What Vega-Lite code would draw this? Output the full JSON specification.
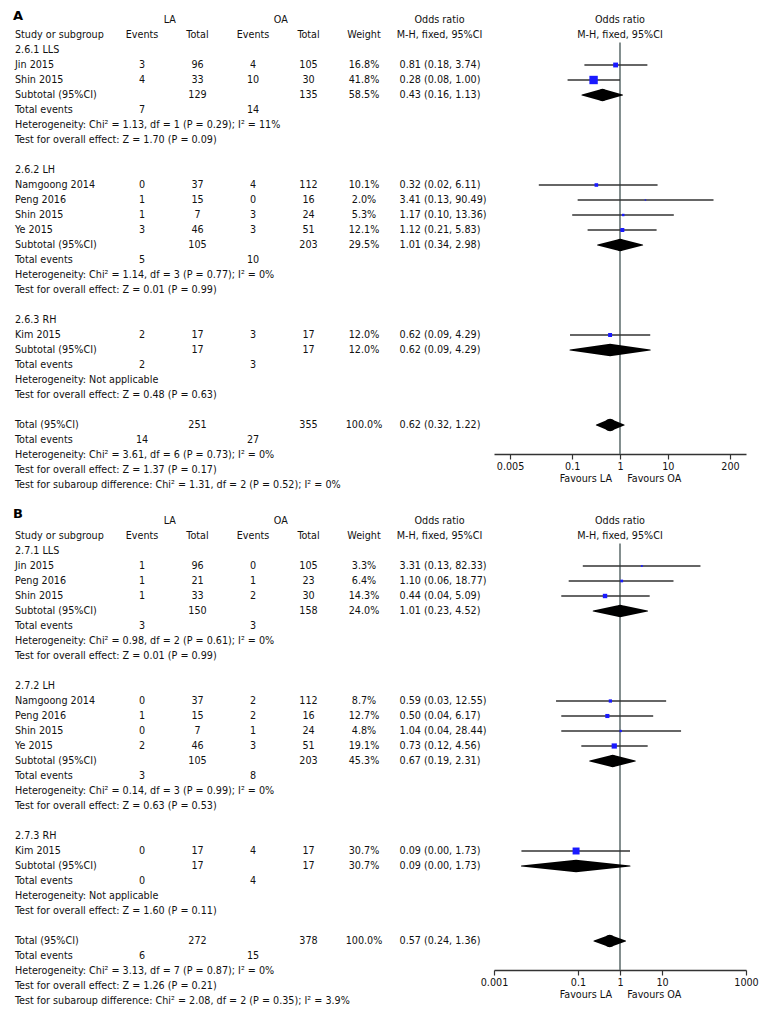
{
"$schema": "https://vega.github.io/schema/vega-lite/v6.json",
"padding": {"left": 12, "top": 0, "right": 0, "bottom": 0},
"background": "white",
"columns": 2,
"bounds": "flush",
"align": "each",
"spacing": {"row": 6, "column": 1},
"config": {
  "view": {"stroke": null},
  "text": {"font": "DejaVu Sans Condensed, DejaVu Sans", "fontSize": 10.7, "color": "#111"},
  "axis": {"labelFont": "DejaVu Sans Condensed, DejaVu Sans", "titleFont": "DejaVu Sans Condensed, DejaVu Sans"}
},
"datasets": {
  "rows": [
    {"p":"A","r":0,"study":"2.6.1 LLS","kind":"group"},
    {"p":"A","r":1,"study":"Jin 2015","ev1":3,"tot1":96,"ev2":4,"tot2":105,"weight":0.168,"ortext":"0.81 (0.18, 3.74)","or":0.81,"lo":0.18,"hi":3.74,"kind":"study"},
    {"p":"A","r":2,"study":"Shin 2015","ev1":4,"tot1":33,"ev2":10,"tot2":30,"weight":0.418,"ortext":"0.28 (0.08, 1.00)","or":0.28,"lo":0.08,"hi":1.0,"kind":"study"},
    {"p":"A","r":3,"study":"Subtotal (95%CI)","tot1":129,"tot2":135,"weight":0.585,"ortext":"0.43 (0.16, 1.13)","or":0.43,"lo":0.16,"hi":1.13,"kind":"sub"},
    {"p":"A","r":4,"study":"Total events","ev1":7,"ev2":14,"kind":"events"},
    {"p":"A","r":5,"study":"Heterogeneity: Chi² = 1.13, df = 1 (P = 0.29); I² = 11%","kind":"note"},
    {"p":"A","r":6,"study":"Test for overall effect: Z = 1.70 (P = 0.09)","kind":"note"},
    {"p":"A","r":8,"study":"2.6.2 LH","kind":"group"},
    {"p":"A","r":9,"study":"Namgoong 2014","ev1":0,"tot1":37,"ev2":4,"tot2":112,"weight":0.101,"ortext":"0.32 (0.02, 6.11)","or":0.32,"lo":0.02,"hi":6.11,"kind":"study"},
    {"p":"A","r":10,"study":"Peng 2016","ev1":1,"tot1":15,"ev2":0,"tot2":16,"weight":0.02,"ortext":"3.41 (0.13, 90.49)","or":3.41,"lo":0.13,"hi":90.49,"kind":"study"},
    {"p":"A","r":11,"study":"Shin 2015","ev1":1,"tot1":7,"ev2":3,"tot2":24,"weight":0.053,"ortext":"1.17 (0.10, 13.36)","or":1.17,"lo":0.10,"hi":13.36,"kind":"study"},
    {"p":"A","r":12,"study":"Ye 2015","ev1":3,"tot1":46,"ev2":3,"tot2":51,"weight":0.121,"ortext":"1.12 (0.21, 5.83)","or":1.12,"lo":0.21,"hi":5.83,"kind":"study"},
    {"p":"A","r":13,"study":"Subtotal (95%CI)","tot1":105,"tot2":203,"weight":0.295,"ortext":"1.01 (0.34, 2.98)","or":1.01,"lo":0.34,"hi":2.98,"kind":"sub"},
    {"p":"A","r":14,"study":"Total events","ev1":5,"ev2":10,"kind":"events"},
    {"p":"A","r":15,"study":"Heterogeneity: Chi² = 1.14, df = 3 (P = 0.77); I² = 0%","kind":"note"},
    {"p":"A","r":16,"study":"Test for overall effect: Z = 0.01 (P = 0.99)","kind":"note"},
    {"p":"A","r":18,"study":"2.6.3 RH","kind":"group"},
    {"p":"A","r":19,"study":"Kim 2015","ev1":2,"tot1":17,"ev2":3,"tot2":17,"weight":0.12,"ortext":"0.62 (0.09, 4.29)","or":0.62,"lo":0.09,"hi":4.29,"kind":"study"},
    {"p":"A","r":20,"study":"Subtotal (95%CI)","tot1":17,"tot2":17,"weight":0.12,"ortext":"0.62 (0.09, 4.29)","or":0.62,"lo":0.09,"hi":4.29,"kind":"sub"},
    {"p":"A","r":21,"study":"Total events","ev1":2,"ev2":3,"kind":"events"},
    {"p":"A","r":22,"study":"Heterogeneity: Not applicable","kind":"note"},
    {"p":"A","r":23,"study":"Test for overall effect: Z = 0.48 (P = 0.63)","kind":"note"},
    {"p":"A","r":25,"study":"Total (95%CI)","tot1":251,"tot2":355,"weight":1.0,"ortext":"0.62 (0.32, 1.22)","or":0.62,"lo":0.32,"hi":1.22,"kind":"tot"},
    {"p":"A","r":26,"study":"Total events","ev1":14,"ev2":27,"kind":"events"},
    {"p":"A","r":27,"study":"Heterogeneity: Chi² = 3.61, df = 6 (P = 0.73); I² = 0%","kind":"note"},
    {"p":"A","r":28,"study":"Test for overall effect: Z = 1.37 (P = 0.17)","kind":"note"},
    {"p":"A","r":29,"study":"Test for subaroup difference: Chi² = 1.31, df = 2 (P = 0.52); I² = 0%","kind":"note"},

    {"p":"B","r":0,"study":"2.7.1 LLS","kind":"group"},
    {"p":"B","r":1,"study":"Jin 2015","ev1":1,"tot1":96,"ev2":0,"tot2":105,"weight":0.033,"ortext":"3.31 (0.13, 82.33)","or":3.31,"lo":0.13,"hi":82.33,"kind":"study"},
    {"p":"B","r":2,"study":"Peng 2016","ev1":1,"tot1":21,"ev2":1,"tot2":23,"weight":0.064,"ortext":"1.10 (0.06, 18.77)","or":1.10,"lo":0.06,"hi":18.77,"kind":"study"},
    {"p":"B","r":3,"study":"Shin 2015","ev1":1,"tot1":33,"ev2":2,"tot2":30,"weight":0.143,"ortext":"0.44 (0.04, 5.09)","or":0.44,"lo":0.04,"hi":5.09,"kind":"study"},
    {"p":"B","r":4,"study":"Subtotal (95%CI)","tot1":150,"tot2":158,"weight":0.24,"ortext":"1.01 (0.23, 4.52)","or":1.01,"lo":0.23,"hi":4.52,"kind":"sub"},
    {"p":"B","r":5,"study":"Total events","ev1":3,"ev2":3,"kind":"events"},
    {"p":"B","r":6,"study":"Heterogeneity: Chi² = 0.98, df = 2 (P = 0.61); I² = 0%","kind":"note"},
    {"p":"B","r":7,"study":"Test for overall effect: Z = 0.01 (P = 0.99)","kind":"note"},
    {"p":"B","r":9,"study":"2.7.2 LH","kind":"group"},
    {"p":"B","r":10,"study":"Namgoong 2014","ev1":0,"tot1":37,"ev2":2,"tot2":112,"weight":0.087,"ortext":"0.59 (0.03, 12.55)","or":0.59,"lo":0.03,"hi":12.55,"kind":"study"},
    {"p":"B","r":11,"study":"Peng 2016","ev1":1,"tot1":15,"ev2":2,"tot2":16,"weight":0.127,"ortext":"0.50 (0.04, 6.17)","or":0.50,"lo":0.04,"hi":6.17,"kind":"study"},
    {"p":"B","r":12,"study":"Shin 2015","ev1":0,"tot1":7,"ev2":1,"tot2":24,"weight":0.048,"ortext":"1.04 (0.04, 28.44)","or":1.04,"lo":0.04,"hi":28.44,"kind":"study"},
    {"p":"B","r":13,"study":"Ye 2015","ev1":2,"tot1":46,"ev2":3,"tot2":51,"weight":0.191,"ortext":"0.73 (0.12, 4.56)","or":0.73,"lo":0.12,"hi":4.56,"kind":"study"},
    {"p":"B","r":14,"study":"Subtotal (95%CI)","tot1":105,"tot2":203,"weight":0.453,"ortext":"0.67 (0.19, 2.31)","or":0.67,"lo":0.19,"hi":2.31,"kind":"sub"},
    {"p":"B","r":15,"study":"Total events","ev1":3,"ev2":8,"kind":"events"},
    {"p":"B","r":16,"study":"Heterogeneity: Chi² = 0.14, df = 3 (P = 0.99); I² = 0%","kind":"note"},
    {"p":"B","r":17,"study":"Test for overall effect: Z = 0.63 (P = 0.53)","kind":"note"},
    {"p":"B","r":19,"study":"2.7.3 RH","kind":"group"},
    {"p":"B","r":20,"study":"Kim 2015","ev1":0,"tot1":17,"ev2":4,"tot2":17,"weight":0.307,"ortext":"0.09 (0.00, 1.73)","or":0.09,"lo":0.0045,"hi":1.73,"kind":"study"},
    {"p":"B","r":21,"study":"Subtotal (95%CI)","tot1":17,"tot2":17,"weight":0.307,"ortext":"0.09 (0.00, 1.73)","or":0.09,"lo":0.0045,"hi":1.73,"kind":"sub"},
    {"p":"B","r":22,"study":"Total events","ev1":0,"ev2":4,"kind":"events"},
    {"p":"B","r":23,"study":"Heterogeneity: Not applicable","kind":"note"},
    {"p":"B","r":24,"study":"Test for overall effect: Z = 1.60 (P = 0.11)","kind":"note"},
    {"p":"B","r":26,"study":"Total (95%CI)","tot1":272,"tot2":378,"weight":1.0,"ortext":"0.57 (0.24, 1.36)","or":0.57,"lo":0.24,"hi":1.36,"kind":"tot"},
    {"p":"B","r":27,"study":"Total events","ev1":6,"ev2":15,"kind":"events"},
    {"p":"B","r":28,"study":"Heterogeneity: Chi² = 3.13, df = 7 (P = 0.87); I² = 0%","kind":"note"},
    {"p":"B","r":29,"study":"Test for overall effect: Z = 1.26 (P = 0.21)","kind":"note"},
    {"p":"B","r":30,"study":"Test for subaroup difference: Chi² = 2.08, df = 2 (P = 0.35); I² = 3.9%","kind":"note"}
  ],
  "head": [
    {"p":"A","r":-2,"c":"study","t":"A"},
    {"p":"A","r":-2,"c":"ev1","t":"LA"},
    {"p":"A","r":-2,"c":"ev2","t":"OA"},
    {"p":"A","r":-2,"c":"or","t":"Odds ratio"},
    {"p":"A","r":-2,"c":"forest","t":"Odds ratio"},
    {"p":"A","r":-1,"c":"study","t":"Study or subgroup"},
    {"p":"A","r":-1,"c":"ev1","t":"Events"},
    {"p":"A","r":-1,"c":"tot1","t":"Total"},
    {"p":"A","r":-1,"c":"ev2","t":"Events"},
    {"p":"A","r":-1,"c":"tot2","t":"Total"},
    {"p":"A","r":-1,"c":"wt","t":"Weight"},
    {"p":"A","r":-1,"c":"or","t":"M-H, fixed, 95%CI"},
    {"p":"A","r":-1,"c":"forest","t":"M-H, fixed, 95%CI"},
    {"p":"B","r":-2,"c":"study","t":"B"},
    {"p":"B","r":-2,"c":"ev1","t":"LA"},
    {"p":"B","r":-2,"c":"ev2","t":"OA"},
    {"p":"B","r":-2,"c":"or","t":"Odds ratio"},
    {"p":"B","r":-2,"c":"forest","t":"Odds ratio"},
    {"p":"B","r":-1,"c":"study","t":"Study or subgroup"},
    {"p":"B","r":-1,"c":"ev1","t":"Events"},
    {"p":"B","r":-1,"c":"tot1","t":"Total"},
    {"p":"B","r":-1,"c":"ev2","t":"Events"},
    {"p":"B","r":-1,"c":"tot2","t":"Total"},
    {"p":"B","r":-1,"c":"wt","t":"Weight"},
    {"p":"B","r":-1,"c":"or","t":"M-H, fixed, 95%CI"},
    {"p":"B","r":-1,"c":"forest","t":"M-H, fixed, 95%CI"}
  ]
},
"concat": [
  {
    "width": 480, "height": 495,
    "data": {"name": "rows"},
    "transform": [{"filter": "datum.p == 'A'"}],
    "encoding": {"y": {"field": "r", "type": "quantitative", "scale": {"domain": [-3.333, 29.667], "reverse": true, "nice": false, "zero": false}, "axis": null}},
    "layer": [
      {"data": {"values": [{}]}, "mark": {"type": "rule", "color": "#666", "strokeWidth": 2}, "encoding": {"y": {"datum": -0.5}}},
      {"mark": {"type": "text", "align": "left", "dx": -16}, "encoding": {"x": {"datum": "study", "type": "nominal", "scale": {"type": "point", "domain": ["study","gap","ev1","tot1","ev2","tot2","wt","or","end"], "padding": 0.324}, "axis": null}, "text": {"field": "study", "type": "nominal"}}},
      {"transform": [{"filter": "datum.ev1 != null"}], "mark": {"type": "text"}, "encoding": {"x": {"datum": "ev1", "type": "nominal", "scale": {"type": "point", "domain": ["study","gap","ev1","tot1","ev2","tot2","wt","or","end"], "padding": 0.324}, "axis": null}, "text": {"field": "ev1", "type": "nominal"}}},
      {"transform": [{"filter": "datum.tot1 != null"}], "mark": {"type": "text"}, "encoding": {"x": {"datum": "tot1", "type": "nominal", "scale": {"type": "point", "domain": ["study","gap","ev1","tot1","ev2","tot2","wt","or","end"], "padding": 0.324}, "axis": null}, "text": {"field": "tot1", "type": "nominal"}}},
      {"transform": [{"filter": "datum.ev2 != null"}], "mark": {"type": "text"}, "encoding": {"x": {"datum": "ev2", "type": "nominal", "scale": {"type": "point", "domain": ["study","gap","ev1","tot1","ev2","tot2","wt","or","end"], "padding": 0.324}, "axis": null}, "text": {"field": "ev2", "type": "nominal"}}},
      {"transform": [{"filter": "datum.tot2 != null"}], "mark": {"type": "text"}, "encoding": {"x": {"datum": "tot2", "type": "nominal", "scale": {"type": "point", "domain": ["study","gap","ev1","tot1","ev2","tot2","wt","or","end"], "padding": 0.324}, "axis": null}, "text": {"field": "tot2", "type": "nominal"}}},
      {"transform": [{"filter": "datum.weight != null"}], "mark": {"type": "text"}, "encoding": {"x": {"datum": "wt", "type": "nominal", "scale": {"type": "point", "domain": ["study","gap","ev1","tot1","ev2","tot2","wt","or","end"], "padding": 0.324}, "axis": null}, "text": {"field": "weight", "type": "quantitative", "format": ".1%"}}},
      {"transform": [{"filter": "datum.ortext != null"}], "mark": {"type": "text", "align": "left", "dx": -20}, "encoding": {"x": {"datum": "or", "type": "nominal", "scale": {"type": "point", "domain": ["study","gap","ev1","tot1","ev2","tot2","wt","or","end"], "padding": 0.324}, "axis": null}, "text": {"field": "ortext", "type": "nominal"}}},
      {"data": {"name": "head"}, "transform": [{"filter": "datum.p == 'A' && datum.r == -1 && indexof(['ev1','tot1','ev2','tot2','wt'], datum.c) >= 0"}], "mark": {"type": "text"}, "encoding": {"x": {"field": "c", "type": "nominal", "scale": {"type": "point", "domain": ["study","gap","ev1","tot1","ev2","tot2","wt","or","end"], "padding": 0.324}, "axis": null}, "text": {"field": "t", "type": "nominal"}}},
      {"data": {"name": "head"}, "transform": [{"filter": "datum.p == 'A' && datum.r == -2 && (datum.c == 'ev1' || datum.c == 'ev2')"}], "mark": {"type": "text", "dx": 27.75}, "encoding": {"x": {"field": "c", "type": "nominal", "scale": {"type": "point", "domain": ["study","gap","ev1","tot1","ev2","tot2","wt","or","end"], "padding": 0.324}, "axis": null}, "text": {"field": "t", "type": "nominal"}}},
      {"data": {"name": "head"}, "transform": [{"filter": "datum.p == 'A' && datum.c == 'or'"}], "mark": {"type": "text", "dx": 20}, "encoding": {"x": {"field": "c", "type": "nominal", "scale": {"type": "point", "domain": ["study","gap","ev1","tot1","ev2","tot2","wt","or","end"], "padding": 0.324}, "axis": null}, "text": {"field": "t", "type": "nominal"}}},
      {"data": {"name": "head"}, "transform": [{"filter": "datum.p == 'A' && datum.c == 'study' && datum.r == -1"}], "mark": {"type": "text", "align": "left", "dx": -16}, "encoding": {"x": {"field": "c", "type": "nominal", "scale": {"type": "point", "domain": ["study","gap","ev1","tot1","ev2","tot2","wt","or","end"], "padding": 0.324}, "axis": null}, "text": {"field": "t", "type": "nominal"}}},
      {"data": {"name": "head"}, "transform": [{"filter": "datum.p == 'A' && datum.c == 'study' && datum.r == -2"}], "mark": {"type": "text", "align": "left", "dx": -18, "dy": -3.5, "font": "DejaVu Sans", "fontSize": 13, "fontWeight": "bold", "color": "#000"}, "encoding": {"x": {"field": "c", "type": "nominal", "scale": {"type": "point", "domain": ["study","gap","ev1","tot1","ev2","tot2","wt","or","end"], "padding": 0.324}, "axis": null}, "text": {"field": "t", "type": "nominal"}}}
    ]
  },
  {
    "width": 252, "height": 454,
    "data": {"name": "rows"},
    "transform": [{"filter": "datum.p == 'A'"}],
    "encoding": {"y": {"field": "r", "type": "quantitative", "scale": {"domain": [-3.333, 26.933], "reverse": true, "nice": false, "zero": false}, "axis": null}},
    "resolve": {"scale": {"size": "independent"}},
    "layer": [
      {"data": {"values": [{}]}, "mark": {"type": "rule", "color": "#666", "strokeWidth": 2}, "encoding": {"y": {"datum": -0.5}}},
      {"transform": [{"filter": "datum.kind == 'tot'"}], "mark": {"type": "rule", "color": "#5b6a6a", "strokeWidth": 1.5, "orient": "vertical"}, "encoding": {"x": {"datum": 1, "type": "quantitative", "scale": {"type": "log", "domain": [0.00231, 433], "nice": false}, "axis": {"values": [0.005, 0.1, 1, 10, 200], "format": "~g", "grid": false, "domainColor": "#333", "domainWidth": 1.5, "tickColor": "#333", "tickWidth": 1.2, "tickSize": 5, "labelFontSize": 10.7, "labelColor": "#111", "labelPadding": 2, "labelFlush": false, "labelOverlap": false, "title": "Favours LA\u00a0\u00a0\u00a0\u00a0 Favours OA", "titleFontSize": 10.7, "titleFontWeight": "normal", "titleColor": "#111", "titlePadding": 3}}, "y": {"datum": -0.5, "type": "quantitative"}, "y2": {"datum": 26.933}}},
      {"transform": [{"filter": "datum.kind == 'study'"}], "mark": {"type": "rule", "color": "#333", "strokeWidth": 1.3}, "encoding": {"x": {"field": "lo", "type": "quantitative", "scale": {"type": "log", "domain": [0.00231, 433], "nice": false}, "axis": {"values": [0.005, 0.1, 1, 10, 200], "format": "~g", "grid": false, "domainColor": "#333", "domainWidth": 1.5, "tickColor": "#333", "tickWidth": 1.2, "tickSize": 5, "labelFontSize": 10.7, "labelColor": "#111", "labelPadding": 2, "labelFlush": false, "labelOverlap": false, "title": "Favours LA\u00a0\u00a0\u00a0\u00a0 Favours OA", "titleFontSize": 10.7, "titleFontWeight": "normal", "titleColor": "#111", "titlePadding": 3}}, "x2": {"field": "hi"}}},
      {"transform": [{"filter": "datum.kind == 'study'"}], "mark": {"type": "point", "shape": "square", "filled": true, "color": "#1a1aff", "opacity": 1}, "encoding": {"x": {"field": "or", "type": "quantitative", "scale": {"type": "log", "domain": [0.00231, 433], "nice": false}, "axis": {"values": [0.005, 0.1, 1, 10, 200], "format": "~g", "grid": false, "domainColor": "#333", "domainWidth": 1.5, "tickColor": "#333", "tickWidth": 1.2, "tickSize": 5, "labelFontSize": 10.7, "labelColor": "#111", "labelPadding": 2, "labelFlush": false, "labelOverlap": false, "title": "Favours LA\u00a0\u00a0\u00a0\u00a0 Favours OA", "titleFontSize": 10.7, "titleFontWeight": "normal", "titleColor": "#111", "titlePadding": 3}}, "size": {"field": "weight", "type": "quantitative", "scale": {"type": "pow", "exponent": 1.2, "domain": [0, 1], "range": [0, 200]}, "legend": null}}},
      {"transform": [{"filter": "datum.kind == 'sub' || datum.kind == 'tot'"}, {"fold": ["lo", "or", "hi"], "as": ["pt", "xv"]}], "mark": {"type": "trail", "color": "#000"}, "encoding": {"x": {"field": "xv", "type": "quantitative", "scale": {"type": "log", "domain": [0.00231, 433], "nice": false}, "axis": {"values": [0.005, 0.1, 1, 10, 200], "format": "~g", "grid": false, "domainColor": "#333", "domainWidth": 1.5, "tickColor": "#333", "tickWidth": 1.2, "tickSize": 5, "labelFontSize": 10.7, "labelColor": "#111", "labelPadding": 2, "labelFlush": false, "labelOverlap": false, "title": "Favours LA\u00a0\u00a0\u00a0\u00a0 Favours OA", "titleFontSize": 10.7, "titleFontWeight": "normal", "titleColor": "#111", "titlePadding": 3}}, "size": {"field": "pt", "type": "ordinal", "scale": {"type": "ordinal", "domain": ["lo", "or", "hi"], "range": [0, 12.5, 0]}, "legend": null}, "detail": {"field": "r", "type": "nominal"}, "order": {"field": "xv", "type": "quantitative"}}},
      {"data": {"name": "head"}, "transform": [{"filter": "datum.p == 'A' && datum.c == 'forest'"}], "mark": {"type": "text"}, "encoding": {"x": {"datum": 1, "type": "quantitative", "scale": {"type": "log", "domain": [0.00231, 433], "nice": false}, "axis": {"values": [0.005, 0.1, 1, 10, 200], "format": "~g", "grid": false, "domainColor": "#333", "domainWidth": 1.5, "tickColor": "#333", "tickWidth": 1.2, "tickSize": 5, "labelFontSize": 10.7, "labelColor": "#111", "labelPadding": 2, "labelFlush": false, "labelOverlap": false, "title": "Favours LA\u00a0\u00a0\u00a0\u00a0 Favours OA", "titleFontSize": 10.7, "titleFontWeight": "normal", "titleColor": "#111", "titlePadding": 3}}, "y": {"field": "r", "type": "quantitative"}, "text": {"field": "t", "type": "nominal"}}}
    ]
  },
  {
    "width": 480, "height": 515,
    "data": {"name": "rows"},
    "transform": [{"filter": "datum.p == 'B'"}],
    "encoding": {"y": {"field": "r", "type": "quantitative", "scale": {"domain": [-3.333, 31.0], "reverse": true, "nice": false, "zero": false}, "axis": null}},
    "layer": [
      {"data": {"values": [{}]}, "mark": {"type": "rule", "color": "#666", "strokeWidth": 2}, "encoding": {"y": {"datum": -0.5}}},
      {"mark": {"type": "text", "align": "left", "dx": -16}, "encoding": {"x": {"datum": "study", "type": "nominal", "scale": {"type": "point", "domain": ["study","gap","ev1","tot1","ev2","tot2","wt","or","end"], "padding": 0.324}, "axis": null}, "text": {"field": "study", "type": "nominal"}}},
      {"transform": [{"filter": "datum.ev1 != null"}], "mark": {"type": "text"}, "encoding": {"x": {"datum": "ev1", "type": "nominal", "scale": {"type": "point", "domain": ["study","gap","ev1","tot1","ev2","tot2","wt","or","end"], "padding": 0.324}, "axis": null}, "text": {"field": "ev1", "type": "nominal"}}},
      {"transform": [{"filter": "datum.tot1 != null"}], "mark": {"type": "text"}, "encoding": {"x": {"datum": "tot1", "type": "nominal", "scale": {"type": "point", "domain": ["study","gap","ev1","tot1","ev2","tot2","wt","or","end"], "padding": 0.324}, "axis": null}, "text": {"field": "tot1", "type": "nominal"}}},
      {"transform": [{"filter": "datum.ev2 != null"}], "mark": {"type": "text"}, "encoding": {"x": {"datum": "ev2", "type": "nominal", "scale": {"type": "point", "domain": ["study","gap","ev1","tot1","ev2","tot2","wt","or","end"], "padding": 0.324}, "axis": null}, "text": {"field": "ev2", "type": "nominal"}}},
      {"transform": [{"filter": "datum.tot2 != null"}], "mark": {"type": "text"}, "encoding": {"x": {"datum": "tot2", "type": "nominal", "scale": {"type": "point", "domain": ["study","gap","ev1","tot1","ev2","tot2","wt","or","end"], "padding": 0.324}, "axis": null}, "text": {"field": "tot2", "type": "nominal"}}},
      {"transform": [{"filter": "datum.weight != null"}], "mark": {"type": "text"}, "encoding": {"x": {"datum": "wt", "type": "nominal", "scale": {"type": "point", "domain": ["study","gap","ev1","tot1","ev2","tot2","wt","or","end"], "padding": 0.324}, "axis": null}, "text": {"field": "weight", "type": "quantitative", "format": ".1%"}}},
      {"transform": [{"filter": "datum.ortext != null"}], "mark": {"type": "text", "align": "left", "dx": -20}, "encoding": {"x": {"datum": "or", "type": "nominal", "scale": {"type": "point", "domain": ["study","gap","ev1","tot1","ev2","tot2","wt","or","end"], "padding": 0.324}, "axis": null}, "text": {"field": "ortext", "type": "nominal"}}},
      {"data": {"name": "head"}, "transform": [{"filter": "datum.p == 'B' && datum.r == -1 && indexof(['ev1','tot1','ev2','tot2','wt'], datum.c) >= 0"}], "mark": {"type": "text"}, "encoding": {"x": {"field": "c", "type": "nominal", "scale": {"type": "point", "domain": ["study","gap","ev1","tot1","ev2","tot2","wt","or","end"], "padding": 0.324}, "axis": null}, "text": {"field": "t", "type": "nominal"}}},
      {"data": {"name": "head"}, "transform": [{"filter": "datum.p == 'B' && datum.r == -2 && (datum.c == 'ev1' || datum.c == 'ev2')"}], "mark": {"type": "text", "dx": 27.75}, "encoding": {"x": {"field": "c", "type": "nominal", "scale": {"type": "point", "domain": ["study","gap","ev1","tot1","ev2","tot2","wt","or","end"], "padding": 0.324}, "axis": null}, "text": {"field": "t", "type": "nominal"}}},
      {"data": {"name": "head"}, "transform": [{"filter": "datum.p == 'B' && datum.c == 'or'"}], "mark": {"type": "text", "dx": 20}, "encoding": {"x": {"field": "c", "type": "nominal", "scale": {"type": "point", "domain": ["study","gap","ev1","tot1","ev2","tot2","wt","or","end"], "padding": 0.324}, "axis": null}, "text": {"field": "t", "type": "nominal"}}},
      {"data": {"name": "head"}, "transform": [{"filter": "datum.p == 'B' && datum.c == 'study' && datum.r == -1"}], "mark": {"type": "text", "align": "left", "dx": -16}, "encoding": {"x": {"field": "c", "type": "nominal", "scale": {"type": "point", "domain": ["study","gap","ev1","tot1","ev2","tot2","wt","or","end"], "padding": 0.324}, "axis": null}, "text": {"field": "t", "type": "nominal"}}},
      {"data": {"name": "head"}, "transform": [{"filter": "datum.p == 'B' && datum.c == 'study' && datum.r == -2"}], "mark": {"type": "text", "align": "left", "dx": -18, "dy": -6.5, "font": "DejaVu Sans", "fontSize": 13, "fontWeight": "bold", "color": "#000"}, "encoding": {"x": {"field": "c", "type": "nominal", "scale": {"type": "point", "domain": ["study","gap","ev1","tot1","ev2","tot2","wt","or","end"], "padding": 0.324}, "axis": null}, "text": {"field": "t", "type": "nominal"}}}
    ]
  },
  {
    "width": 252, "height": 469,
    "data": {"name": "rows"},
    "transform": [{"filter": "datum.p == 'B'"}],
    "encoding": {"y": {"field": "r", "type": "quantitative", "scale": {"domain": [-3.333, 27.933], "reverse": true, "nice": false, "zero": false}, "axis": null}},
    "resolve": {"scale": {"size": "independent"}},
    "layer": [
      {"data": {"values": [{}]}, "mark": {"type": "rule", "color": "#666", "strokeWidth": 2}, "encoding": {"y": {"datum": -0.5}}},
      {"transform": [{"filter": "datum.kind == 'tot'"}], "mark": {"type": "rule", "color": "#5b6a6a", "strokeWidth": 1.5, "orient": "vertical"}, "encoding": {"x": {"datum": 1, "type": "quantitative", "scale": {"type": "log", "domain": [0.001, 1000], "nice": false}, "axis": {"values": [0.001, 0.1, 1, 10, 1000], "format": "~g", "grid": false, "domainColor": "#333", "domainWidth": 1.5, "tickColor": "#333", "tickWidth": 1.2, "tickSize": 5, "labelFontSize": 10.7, "labelColor": "#111", "labelPadding": 2, "labelFlush": false, "labelOverlap": false, "title": "Favours LA\u00a0\u00a0\u00a0\u00a0 Favours OA", "titleFontSize": 10.7, "titleFontWeight": "normal", "titleColor": "#111", "titlePadding": 3}}, "y": {"datum": -0.5, "type": "quantitative"}, "y2": {"datum": 27.933}}},
      {"transform": [{"filter": "datum.kind == 'study'"}], "mark": {"type": "rule", "color": "#333", "strokeWidth": 1.3}, "encoding": {"x": {"field": "lo", "type": "quantitative", "scale": {"type": "log", "domain": [0.001, 1000], "nice": false}, "axis": {"values": [0.001, 0.1, 1, 10, 1000], "format": "~g", "grid": false, "domainColor": "#333", "domainWidth": 1.5, "tickColor": "#333", "tickWidth": 1.2, "tickSize": 5, "labelFontSize": 10.7, "labelColor": "#111", "labelPadding": 2, "labelFlush": false, "labelOverlap": false, "title": "Favours LA\u00a0\u00a0\u00a0\u00a0 Favours OA", "titleFontSize": 10.7, "titleFontWeight": "normal", "titleColor": "#111", "titlePadding": 3}}, "x2": {"field": "hi"}}},
      {"transform": [{"filter": "datum.kind == 'study'"}], "mark": {"type": "point", "shape": "square", "filled": true, "color": "#1a1aff", "opacity": 1}, "encoding": {"x": {"field": "or", "type": "quantitative", "scale": {"type": "log", "domain": [0.001, 1000], "nice": false}, "axis": {"values": [0.001, 0.1, 1, 10, 1000], "format": "~g", "grid": false, "domainColor": "#333", "domainWidth": 1.5, "tickColor": "#333", "tickWidth": 1.2, "tickSize": 5, "labelFontSize": 10.7, "labelColor": "#111", "labelPadding": 2, "labelFlush": false, "labelOverlap": false, "title": "Favours LA\u00a0\u00a0\u00a0\u00a0 Favours OA", "titleFontSize": 10.7, "titleFontWeight": "normal", "titleColor": "#111", "titlePadding": 3}}, "size": {"field": "weight", "type": "quantitative", "scale": {"type": "pow", "exponent": 1.2, "domain": [0, 1], "range": [0, 200]}, "legend": null}}},
      {"transform": [{"filter": "datum.kind == 'sub' || datum.kind == 'tot'"}, {"fold": ["lo", "or", "hi"], "as": ["pt", "xv"]}], "mark": {"type": "trail", "color": "#000"}, "encoding": {"x": {"field": "xv", "type": "quantitative", "scale": {"type": "log", "domain": [0.001, 1000], "nice": false}, "axis": {"values": [0.001, 0.1, 1, 10, 1000], "format": "~g", "grid": false, "domainColor": "#333", "domainWidth": 1.5, "tickColor": "#333", "tickWidth": 1.2, "tickSize": 5, "labelFontSize": 10.7, "labelColor": "#111", "labelPadding": 2, "labelFlush": false, "labelOverlap": false, "title": "Favours LA\u00a0\u00a0\u00a0\u00a0 Favours OA", "titleFontSize": 10.7, "titleFontWeight": "normal", "titleColor": "#111", "titlePadding": 3}}, "size": {"field": "pt", "type": "ordinal", "scale": {"type": "ordinal", "domain": ["lo", "or", "hi"], "range": [0, 12.5, 0]}, "legend": null}, "detail": {"field": "r", "type": "nominal"}, "order": {"field": "xv", "type": "quantitative"}}},
      {"data": {"name": "head"}, "transform": [{"filter": "datum.p == 'B' && datum.c == 'forest'"}], "mark": {"type": "text"}, "encoding": {"x": {"datum": 1, "type": "quantitative", "scale": {"type": "log", "domain": [0.001, 1000], "nice": false}, "axis": {"values": [0.001, 0.1, 1, 10, 1000], "format": "~g", "grid": false, "domainColor": "#333", "domainWidth": 1.5, "tickColor": "#333", "tickWidth": 1.2, "tickSize": 5, "labelFontSize": 10.7, "labelColor": "#111", "labelPadding": 2, "labelFlush": false, "labelOverlap": false, "title": "Favours LA\u00a0\u00a0\u00a0\u00a0 Favours OA", "titleFontSize": 10.7, "titleFontWeight": "normal", "titleColor": "#111", "titlePadding": 3}}, "y": {"field": "r", "type": "quantitative"}, "text": {"field": "t", "type": "nominal"}}}
    ]
  }
]
}
